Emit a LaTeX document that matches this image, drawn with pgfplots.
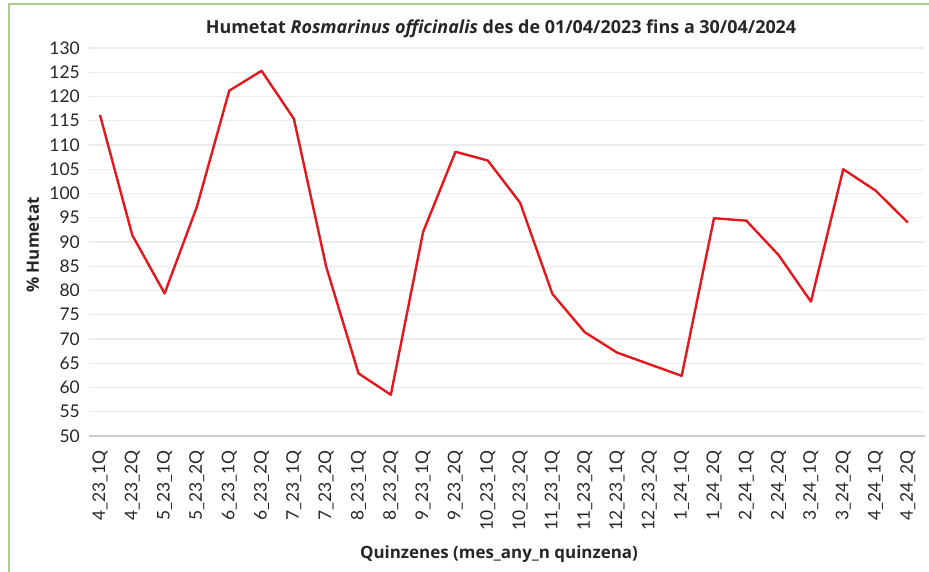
\documentclass[border=0pt]{standalone}
\usepackage{fontspec}
\setmainfont{Lato}
\newfontfamily\osans{Open Sans}
\usepackage{pgfplots}
\pgfplotsset{compat=1.18}
\definecolor{gridc}{HTML}{ECECEC}
\definecolor{basec}{HTML}{CCCCCC}
\definecolor{linec}{HTML}{E3171C}
\definecolor{framec}{HTML}{A9D18E}
\definecolor{txt}{HTML}{262626}
\begin{document}
\begin{tikzpicture}
\useasboundingbox (-89bp,-136bp) rectangle (840bp,436bp);
\draw[framec, line width=2.2bp] (-80bp,-137bp) -- (-80bp,432bp) -- (841bp,432bp);
\begin{axis}[
  at={(0,0)}, anchor=south west,
  scale only axis, width=836bp, height=388bp,
  xmin=-0.34, xmax=25.53, ymin=50, ymax=130,
  ytick={55,60,...,130},
  extra y ticks={50},
  extra y tick style={grid style={basec, line width=1.6bp}},
  xtick={0,...,25},
  xticklabels={4\_23\_1Q,4\_23\_2Q,5\_23\_1Q,5\_23\_2Q,6\_23\_1Q,6\_23\_2Q,7\_23\_1Q,7\_23\_2Q,8\_23\_1Q,8\_23\_2Q,9\_23\_1Q,9\_23\_2Q,10\_23\_1Q,10\_23\_2Q,11\_23\_1Q,11\_23\_2Q,12\_23\_1Q,12\_23\_2Q,1\_24\_1Q,1\_24\_2Q,2\_24\_1Q,2\_24\_2Q,3\_24\_1Q,3\_24\_2Q,4\_24\_1Q,4\_24\_2Q},
  axis line style={draw=none},
  major tick length=0pt,
  ymajorgrids,
  grid style={gridc, line width=1.1bp},
  /pgf/number format/assume math mode=true,
  tick label style={font=\fontsize{17.5}{17.5}\selectfont, text=txt, inner sep=0pt},
  x tick label style={rotate=90, anchor=east},
  y tick label style={anchor=east},
  xticklabel shift=14bp,
  yticklabel shift=9bp,
  clip=false,
]
\addplot[linec, line width=2.4bp, line join=round] coordinates {
(0,116.2) (1,91.4) (2,79.4) (3,97.3) (4,121.2) (5,125.3) (6,115.4) (7,84.9)
(8,62.9) (9,58.5) (10,92.1) (11,108.6) (12,106.8) (13,98.1) (14,79.3) (15,71.4)
(16,67.2) (17,64.8) (18,62.4) (19,94.9) (20,94.4) (21,87.3) (22,77.7) (23,105.0)
(24,100.6) (25,94.0)};
\end{axis}
\node[text=txt, font=\osans\fontsize{18}{18}\selectfont\bfseries, anchor=base] at (412bp,402bp) {Humetat \textit{Rosmarinus officinalis} des de 01/04/2023 fins a 30/04/2024};
\node[text=txt, font=\osans\fontsize{17}{17}\selectfont\bfseries, anchor=base] at (410bp,-122bp) {Quinzenes (mes\_any\_n quinzena)};
\node[text=txt, font=\osans\fontsize{17}{17}\selectfont\bfseries, rotate=90, anchor=base] at (-50bp,191bp) {\% Humetat};
\end{tikzpicture}
\end{document}
